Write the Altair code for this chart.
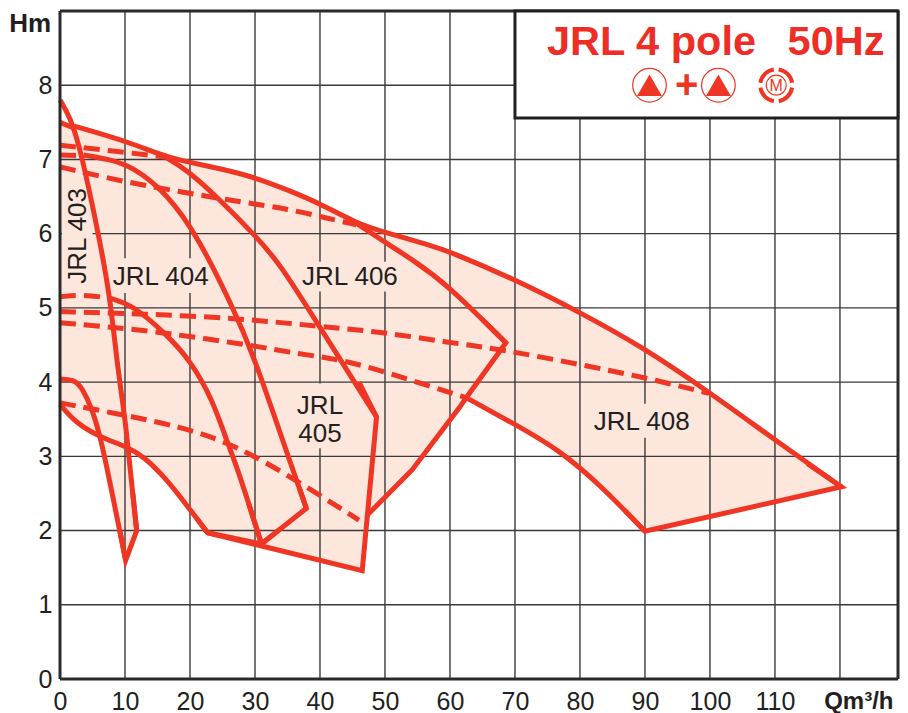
import altair as alt
import pandas as pd

RED = "#ef3524"
FILL = "#fde6dc"
INK = "#231f20"
XMAX = 128.93

x_ticks = list(range(0, 120, 10))
y_ticks = list(range(0, 9))
grid_x = list(range(10, 130, 10))
grid_y = list(range(1, 9))

envelope = [(0, 7.5), (2.2, 7.45), (11.2, 7.22), (16.4, 7.02), (23.5, 6.9), (29.7, 6.77), (35.3, 6.58), (39.9, 6.41), (45.6, 6.14),
            (49.9, 6.02), (56.8, 5.85), (59.9, 5.76), (69.6, 5.4), (79.8, 4.95), (89.5, 4.48), (99.8, 3.87), (110, 3.22), (120.2, 2.59),
            (90, 1.99), (83.4, 2.59), (76.8, 3.09), (69.6, 3.45), (62.5, 3.79), (61.4, 3.65), (54.2, 2.82), (47.3, 2.21),
            (46.5, 1.46), (31, 1.82), (22.7, 1.97), (19.7, 2.32), (16.1, 2.72), (13, 2.99), (10.8, 3.13), (10.8, 2.82), (11.8, 2.0),
            (10.1, 1.6), (6.9, 2.99), (6.1, 3.26), (2.3, 3.46), (0, 3.7)]

smooth_solid = {
    "top": [(2.2, 7.45), (11.2, 7.22), (16.4, 7.02), (23.5, 6.9), (29.7, 6.77), (35.3, 6.58), (39.9, 6.41), (45.6, 6.14), (49.9, 6.02),
            (56.8, 5.85), (59.9, 5.76), (69.6, 5.4), (79.8, 4.95), (89.5, 4.48), (99.8, 3.87), (110, 3.22), (120.2, 2.59)],
    "405": [(3.6, 7.06), (7.7, 7.0), (11.2, 6.9), (16.4, 6.55), (21.5, 5.92), (26.6, 5.0), (29.7, 4.39), (35.8, 2.82), (37.9, 2.3)],
    "406": [(16.4, 7.02), (19.5, 6.86), (24.1, 6.5), (30.2, 5.96), (33.8, 5.6), (39.9, 4.75), (48.7, 3.53)],
    "408a": [(45.6, 6.14), (49.9, 5.89), (54.2, 5.65), (59.4, 5.33), (68.6, 4.53)],
    "408b": [(62.5, 3.79), (69.6, 3.45), (76.8, 3.09), (83.4, 2.59), (90, 1.99)],
    "403a": [(0, 7.8), (1.5, 7.58), (3.1, 7.17), (6.1, 5.92), (7.7, 5.15), (8.9, 4.16), (10, 3.53), (10.8, 2.82), (11.8, 2.0)],
    "403b": [(0, 4.04), (2.3, 4.03), (3.4, 3.92), (4.9, 3.65), (6.1, 3.29), (6.9, 2.99), (10.1, 1.6)],
    "404": [(7.7, 5.13), (11.2, 5.04), (16.4, 4.64), (20, 4.3), (23.5, 3.76), (25.6, 3.22), (27.4, 2.82), (31, 1.82)],
    "low": [(0, 3.7), (2.3, 3.46), (6.1, 3.26), (10.3, 3.13), (13, 2.99), (16.1, 2.72), (19.7, 2.32), (22.7, 1.97)],
}
straight_solid = {
    "a": [(36.8, 2.58), (37.9, 2.3), (31, 1.82), (22.7, 1.97)],
    "b": [(29, 2.37), (31, 1.82), (34, 2.03)],
    "c": [(46, 4.0), (48.7, 3.53), (46.5, 1.46), (22.7, 1.97), (21, 2.17)],
    "d": [(65, 4.84), (68.6, 4.53), (62.5, 3.79), (61.4, 3.65), (54.2, 2.82), (47.3, 2.21)],
    "e": [(11.2, 2.5), (11.8, 2.0), (10.1, 1.6), (9.2, 2.0)],
    "f": [(115, 2.9), (120.2, 2.59), (90, 1.99), (87, 2.26)],
}
dashed = {
    "d1": [(0, 7.5), (2.2, 7.42)],
    "d2": [(0, 7.19), (8.7, 7.11), (16.4, 7.03)],
    "d3": [(0, 7.06), (3.6, 7.05)],
    "d4": [(0, 6.9), (9.7, 6.7), (19.5, 6.55), (27.6, 6.43), (35.3, 6.33), (41, 6.21), (45.6, 6.12)],
    "d5": [(0, 5.15), (3.6, 5.18), (7.7, 5.13)],
    "d6": [(0, 4.95), (12.8, 4.92), (27.6, 4.86), (39.9, 4.75), (49.1, 4.68), (59.4, 4.54), (68.6, 4.43), (79.8, 4.24), (90.1, 4.06), (99.8, 3.85)],
    "d7": [(0, 4.8), (8.2, 4.74), (16.4, 4.66), (29.2, 4.5), (36.8, 4.38), (43.5, 4.3), (50.7, 4.12), (56.3, 3.96), (62.5, 3.79)],
    "d8": [(0, 3.72), (9.7, 3.56), (18.4, 3.4), (25.6, 3.2), (33.8, 2.82), (46, 2.14)],
}

masks = [(7.7, 23.5, 5.2, 5.67), (37, 53, 5.22, 5.62), (81, 98, 3.25, 3.71), (35.5, 45, 3.11, 3.98), (0.3, 5, 5.3, 6.62)]
labels = [("JRL 404", 15.5, 5.42, 0), ("JRL 406", 44.6, 5.42, 0), ("JRL 408", 89.5, 3.46, 0),
          ("JRL", 40, 3.68, 0), ("405", 40, 3.3, 0), ("JRL 403", 2.8, 5.97, 270)]
title_parts = [("JRL 4 pole", 91), ("50Hz", 119.4)]
triangles = [90.7, 101.3]
plus_x = 96.4
motor_x = 110.2
motor_arcs = [(0.15, 1.42), (1.72, 2.99), (3.29, 4.56), (4.86, 6.13)]

X = alt.Scale(domain=[0, XMAX], nice=False, zero=False)
Y = alt.Scale(domain=[0, 9], nice=False, zero=False)
xp = alt.X("x:Q", scale=X, axis=alt.Axis(values=x_ticks, title=None, domain=False, ticks=False, grid=False,
           labelFontSize=25, labelColor=INK, labelFont="Liberation Sans", labelPadding=10, labelFlush=False))
yp = alt.Y("y:Q", scale=Y, axis=alt.Axis(values=y_ticks, title=None, domain=False, ticks=False, grid=False,
           labelFontSize=25, labelColor=INK, labelFont="Liberation Sans", labelPadding=8))
x2 = alt.X2("x2:Q")
y2 = alt.Y2("y2:Q")


def long(d):
    rows = []
    for k, pts in d.items():
        for i, (a, b) in enumerate(pts):
            rows.append({"id": k, "i": i, "x": a, "y": b})
    return pd.DataFrame(rows)


env_df = pd.DataFrame([{"i": i, "x": a, "y": b} for i, (a, b) in enumerate(envelope)])
fill_layer = alt.Chart(env_df).mark_line(fill=FILL, stroke=FILL, strokeWidth=0.5).encode(x=xp, y=yp, order="i:Q")

vgrid = alt.Chart(pd.DataFrame({"x": grid_x})).mark_rule(color="#3a3a3a", strokeWidth=1.4).encode(x=xp)
hgrid = alt.Chart(pd.DataFrame({"y": grid_y})).mark_rule(color="#3a3a3a", strokeWidth=1.4).encode(y=yp)
mask_layer = alt.Chart(pd.DataFrame(masks, columns=["x", "x2", "y", "y2"])).mark_rect(color=FILL).encode(
    x=xp, x2=x2, y=yp, y2=y2)

smooth = alt.Chart(long(smooth_solid)).mark_line(color=RED, strokeWidth=5, interpolate="basis").encode(
    x=xp, y=yp, detail="id:N", order="i:Q")
sharp = alt.Chart(long(straight_solid)).mark_line(color=RED, strokeWidth=5, strokeJoin="miter", strokeMiterLimit=12).encode(
    x=xp, y=yp, detail="id:N", order="i:Q")
dash = alt.Chart(long(dashed)).mark_line(color=RED, strokeWidth=5, strokeDash=[16, 8], interpolate="basis").encode(
    x=xp, y=yp, detail="id:N", order="i:Q")

label_df = pd.DataFrame(labels, columns=["t", "x", "y", "a"])
label_h = alt.Chart(label_df[label_df.a == 0]).mark_text(font="Liberation Sans", fontSize=26, color=INK).encode(
    x=xp, y=yp, text="t:N")
label_v = alt.Chart(label_df[label_df.a != 0]).mark_text(font="Liberation Sans", fontSize=26, color=INK, angle=270).encode(
    x=xp, y=yp, text="t:N")

box = alt.Chart(pd.DataFrame({"x": [70], "x2": [XMAX], "y": [7.56], "y2": [9]})).mark_rect(
    fill="white", stroke="#231f20", strokeWidth=3).encode(x=xp, x2=x2, y=yp, y2=y2)
title_layer = alt.Chart(pd.DataFrame(title_parts, columns=["t", "x"]).assign(y=8.41)).mark_text(
    font="Liberation Sans", fontWeight="bold", fontSize=41.5, color="#ee2d27", baseline="alphabetic").encode(
    x=xp, y=yp, text="t:N")

tri_df = pd.DataFrame({"x": triangles, "y": [8.0] * 2})
rings = alt.Chart(tri_df).mark_point(shape="circle", size=1130, filled=False, color=RED, strokeWidth=1.2, opacity=1).encode(x=xp, y=yp)
tris = alt.Chart(tri_df).mark_point(shape="triangle-up", size=620, filled=True, color=RED, opacity=1).encode(x=xp, y=yp)
plus = alt.Chart(pd.DataFrame({"t": ["+"], "x": [plus_x], "y": [8.0]})).mark_text(
    font="Liberation Sans", fontWeight="bold", fontSize=40, color=RED, baseline="middle", dy=1).encode(x=xp, y=yp, text="t:N")

m_df = pd.DataFrame({"x": [motor_x], "y": [8.0]})
ring_m = alt.Chart(m_df).mark_point(shape="circle", size=400, filled=False, color=RED, strokeWidth=1.2, opacity=1).encode(x=xp, y=yp)
m_txt = alt.Chart(m_df.assign(t="M")).mark_text(font="Liberation Sans", fontSize=16, color=RED, baseline="middle", dy=1).encode(
    x=xp, y=yp, text="t:N")
arcs = [alt.Chart(m_df).mark_arc(theta=a, theta2=b, radius=18, radius2=14, color=RED).encode(x=xp, y=yp) for a, b in motor_arcs]

frame_v = alt.Chart(pd.DataFrame({"x": [0, XMAX]})).mark_rule(color="#2a2a2a", strokeWidth=3).encode(x=xp)
frame_h = alt.Chart(pd.DataFrame({"y": [0, 9]})).mark_rule(color="#2a2a2a", strokeWidth=3).encode(y=yp)

unit_df = pd.DataFrame({"t": ["Hm", "Qm³/h"], "x": [-4.6, 122.9], "y": [8.82, -0.31], "s": [26, 24]})
unit_a = alt.Chart(unit_df[unit_df.t == "Hm"]).mark_text(
    font="Liberation Sans", fontWeight="bold", fontSize=26, color=INK, baseline="middle").encode(x=xp, y=yp, text="t:N")
unit_b = alt.Chart(unit_df[unit_df.t != "Hm"]).mark_text(
    font="Liberation Sans", fontWeight="bold", fontSize=24, color=INK, baseline="middle").encode(x=xp, y=yp, text="t:N")

chart = alt.layer(
    fill_layer, vgrid, hgrid, mask_layer, smooth, sharp, dash, label_h, label_v, frame_v, frame_h,
    box, title_layer, rings, tris, plus, ring_m, m_txt, *arcs, unit_a, unit_b,
).properties(
    width=838, height=668,
    autosize=alt.AutoSizeParams(type="none"),
    padding={"left": 52, "top": 3, "right": 2, "bottom": 34},
).configure_view(stroke=None).configure(background="white")

chart.save("out.html", embed_options={"renderer": "svg", "actions": False})
